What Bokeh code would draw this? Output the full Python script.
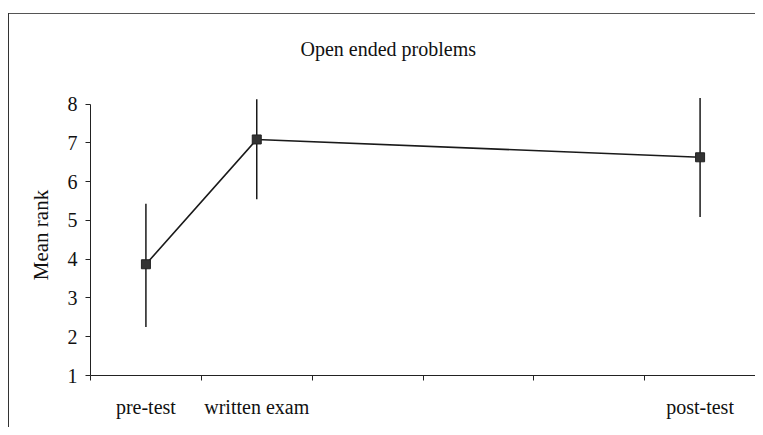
from bokeh.plotting import figure
from bokeh.models import Range1d, FixedTicker, LinearAxis
from bokeh.embed import file_html
from bokeh.resources import INLINE

# Data
categories = ["pre-test", "written exam", "post-test"]
slots = [0, 1, 5]            # slot index of each category on a 6-slot axis
mean_rank = [3.87, 7.09, 6.63]
err_high = [5.43, 8.13, 8.16]
err_low = [2.25, 5.55, 5.09]
y_ticks = [1, 2, 3, 4, 5, 6, 7, 8]
n_slots = 6

FONT = "Liberation Serif"

xc = [s + 0.5 for s in slots]

p = figure(width=755, height=427, output_backend="svg", toolbar_location=None,
           x_range=Range1d(0, n_slots), y_range=Range1d(1, 8.25),
           min_border_left=90, min_border_right=0, min_border_top=91, min_border_bottom=52)
# chart frame line (left and top only; right/bottom are cut off in the reference)
p.styles = {
    "background-image": "linear-gradient(#333333, #333333), linear-gradient(#555555, #555555)",
    "background-size": "1px 100%, 100% 1px",
    "background-position": "8px 13px, 8px 13px",
    "background-repeat": "no-repeat",
}
p.outline_line_color = None
p.grid.visible = False
p.background_fill_color = "white"
p.border_fill_color = None

p.title.text = "Open ended problems"
p.title.text_font = FONT
p.title.text_font_size = "20px"
p.title.text_font_style = "normal"
p.title.text_color = "#111111"
p.title.align = "left"
p.title.offset = 210
p.title.standoff = 70

# error bars
p.segment(x0=xc, x1=xc, y0=err_low, y1=err_high, line_color="#1a1a1a", line_width=1.5)
# line
p.line(xc, mean_rank, line_color="#1a1a1a", line_width=1.6)
p.scatter(xc, mean_rank, marker="square", size=9, fill_color="#333333", line_color="#222222")

# axes
for ax in (p.xaxis[0], p.yaxis[0]):
    ax.axis_line_color = "#222222"
    ax.major_tick_line_color = "#222222"
    ax.minor_tick_line_color = None
    ax.major_tick_in = 0
    ax.major_tick_out = 5
    ax.major_label_text_font = FONT
    ax.major_label_text_font_size = "20px"
    ax.major_label_text_color = "#111111"

p.yaxis[0].ticker = FixedTicker(ticks=y_ticks)
p.yaxis[0].bounds = (1, 8)
p.yaxis[0].major_label_standoff = 8
p.yaxis[0].axis_label = "Mean rank"
p.yaxis[0].axis_label_text_font = FONT
p.yaxis[0].axis_label_text_font_style = "normal"
p.yaxis[0].axis_label_text_font_size = "21px"
p.yaxis[0].axis_label_text_color = "#111111"
p.yaxis[0].axis_label_standoff = 12

p.xaxis[0].ticker = FixedTicker(ticks=list(range(n_slots + 1)))
p.xaxis[0].major_label_overrides = {i: "" for i in range(n_slots + 1)}
p.xaxis[0].major_label_standoff = 0

cat_axis = LinearAxis(ticker=FixedTicker(ticks=xc),
                      major_label_overrides={x: c for x, c in zip(xc, categories)},
                      axis_line_color=None, major_tick_line_color=None, minor_tick_line_color=None,
                      major_label_text_font=FONT, major_label_text_font_size="20px",
                      major_label_text_color="#111111", major_label_standoff=9)
p.add_layout(cat_axis, "below")

open("out.html", "w").write(file_html(p, INLINE))
